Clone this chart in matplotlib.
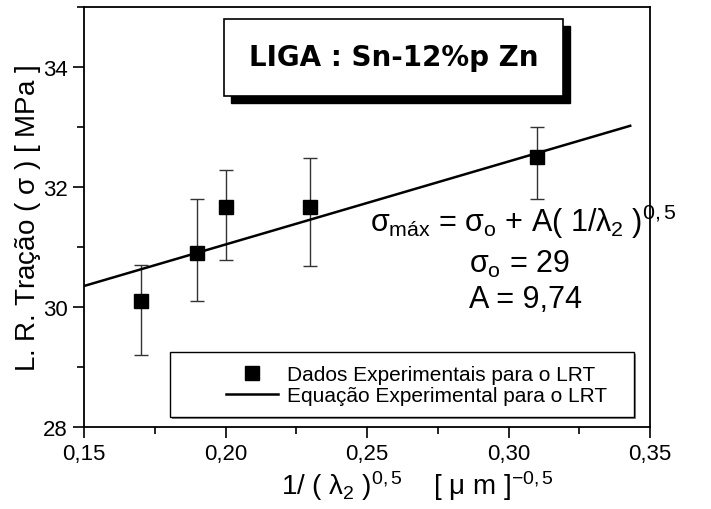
import matplotlib
matplotlib.use("Agg")
import matplotlib.pyplot as plt
from matplotlib.patches import Rectangle
from matplotlib.ticker import MultipleLocator

plt.rcParams['font.family'] = ['Liberation Sans', 'DejaVu Sans']
plt.rcParams['mathtext.fontset'] = 'custom'
plt.rcParams['mathtext.rm'] = 'Liberation Sans'
plt.rcParams['mathtext.it'] = 'Liberation Sans'
plt.rcParams['mathtext.bf'] = 'Liberation Sans:bold'

# experimental points (1/lambda2^0.5 vs tensile strength)
x_data = [0.17, 0.19, 0.20, 0.23, 0.31]
y_data = [30.1, 30.9, 31.67, 31.67, 32.5]
y_low = [29.2, 30.1, 30.78, 30.68, 31.8]
y_high = [30.7, 31.8, 32.28, 32.48, 33.0]

# fitted line as drawn
line_x = [0.15, 0.343]
line_y = [30.35, 33.02]

x_ticks = [0.15, 0.20, 0.25, 0.30, 0.35]
x_labels = ["0,15", "0,20", "0,25", "0,30", "0,35"]
y_ticks = [28, 30, 32, 34]
y_labels = ["28", "30", "32", "34"]

fig = plt.figure(figsize=(7.11, 5.10), dpi=100)
ax = fig.add_axes([84 / 711, 1 - 428 / 510, (650 - 84) / 711, (428 - 8) / 510])

err = [[y - lo for y, lo in zip(y_data, y_low)], [hi - y for y, hi in zip(y_data, y_high)]]
ax.errorbar(x_data, y_data, yerr=err, fmt='none', ecolor='#333333', elinewidth=1.0,
            capsize=5, capthick=1.0, zorder=2)
ax.plot(x_data, y_data, 's', color='black', markersize=10, zorder=3,
        label="Dados Experimentais para o LRT")
ax.plot(line_x, line_y, '-', color='black', lw=1.8, zorder=2,
        label="Equação Experimental para o LRT")

ax.set_xlim(0.15, 0.35)
ax.set_ylim(28, 35)
ax.set_xticks(x_ticks, x_labels)
ax.set_yticks(y_ticks, y_labels)
ax.xaxis.set_minor_locator(MultipleLocator(0.025))
ax.yaxis.set_minor_locator(MultipleLocator(1))
ax.tick_params(which='major', direction='out', length=8, width=1.2, labelsize=16,
               top=False, right=False)
ax.tick_params(which='minor', direction='out', length=5, width=1.2, top=False, right=False)
for s in ax.spines.values():
    s.set_linewidth(1.3)

ax.set_xlabel(r"1/ ( $\lambda_{2}$ )$^{0,5}$    [ $\mu$ m ]$^{-0,5}$", fontsize=20, labelpad=3, x=0.59)
ax.set_ylabel(r"L. R. Tração ( $\sigma$ ) [ MPa ]", fontsize=20, labelpad=0)

# equation text
ax.text(0.505, 0.49, r"$\sigma_{\mathrm{máx}}$ = $\sigma_{\mathrm{o}}$ + A( 1/$\lambda_{2}$ )$^{0,5}$",
        transform=ax.transAxes, fontsize=22, ha='left', va='center')
ax.text(0.68, 0.39, r"$\sigma_{\mathrm{o}}$ = 29", transform=ax.transAxes,
        fontsize=22, ha='left', va='center')
ax.text(0.68, 0.305, "A = 9,74", transform=ax.transAxes, fontsize=22, ha='left', va='center')

# title box with shadow
bx0, by0 = (224 - 84) / 566, (428 - 97) / 420
bw, bh = (563 - 224) / 566, (97 - 20) / 420
ax.add_patch(Rectangle((bx0 + 7 / 566, by0 - 7 / 420), bw, bh, transform=ax.transAxes,
                       facecolor='black', edgecolor='black', zorder=4))
ax.add_patch(Rectangle((bx0, by0), bw, bh, transform=ax.transAxes,
                       facecolor='white', edgecolor='black', lw=1.2, zorder=5))
ax.text(bx0 + bw / 2, by0 + bh / 2, "LIGA : Sn-12%p Zn", transform=ax.transAxes,
        fontsize=20, fontweight='bold', family=['DejaVu Sans'], ha='center', va='center', zorder=6)

# legend box
lx0, ly0 = (170 - 84) / 566, (428 - 418) / 420
lw_, lh = (634 - 170) / 566, (418 - 353) / 420
ax.add_patch(Rectangle((lx0 + 2 / 566, ly0 - 2 / 420), lw_, lh, transform=ax.transAxes,
                       facecolor='#888888', edgecolor='none', zorder=4))
ax.add_patch(Rectangle((lx0, ly0), lw_, lh, transform=ax.transAxes,
                       facecolor='white', edgecolor='black', lw=1.0, zorder=5))
leg = ax.legend(loc='center left', bbox_to_anchor=((218 - 84) / 566, (428 - 386) / 420),
                frameon=False, fontsize=15, handlelength=2.5, handletextpad=0.4,
                borderaxespad=0, labelspacing=0.1)
leg.set_zorder(6)

fig.savefig("out.png", dpi=100)
